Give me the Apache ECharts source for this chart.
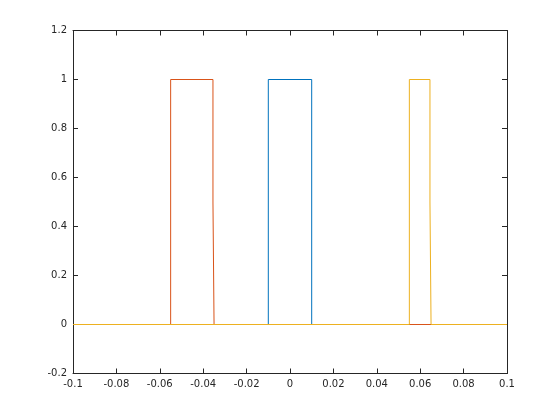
<!DOCTYPE html>
<html>
<head>
<meta charset="utf-8">
<script src="https://cdn.jsdelivr.net/npm/echarts@6/dist/echarts.min.js"></script>
<style>html,body{margin:0;padding:0;background:#fff}#c{width:560px;height:420px}</style>
</head>
<body>
<div id="c"></div>
<script>
// Series data (step pulses)
var blueX   = [-0.1, -0.01, -0.01, 0.01, 0.01, 0.1];
var blueY   = [0, 0, 1, 1, 0, 0];
var orangeX = [-0.1, -0.055, -0.055, -0.0355, -0.0355, -0.035, -0.035, 0.1];
var orangeY = [0, 0, 1, 1, 0.5, 0.5, 0, 0];
var yellowX = [-0.1, 0.055, 0.055, 0.0645, 0.0645, 0.065, 0.065, 0.1];
var yellowY = [0, 0, 1, 1, 0.5, 0.5, 0, 0];

var xMin = -0.1, xMax = 0.1, xStep = 0.02;
var yMin = -0.2, yMax = 1.2, yStep = 0.2;

function zip(xs, ys) { return xs.map(function (x, i) { return [x, ys[i]]; }); }
function fmt(v) { var r = Math.round(v * 1000) / 1000; return String(r); }

var axColor = '#262626';
var font = 'DejaVu Sans';

var chart = echarts.init(document.getElementById('c'));
chart.setOption({
  animation: false,
  backgroundColor: '#fff',
  grid: { left: 73, right: 53, top: 30.5, bottom: 46.5, containLabel: false },
  xAxis: [
    { type: 'value', min: xMin, max: xMax, interval: xStep, position: 'bottom',
      axisLine: { show: true, onZero: false, lineStyle: { color: axColor, width: 1 } },
      axisTick: { show: true, inside: true, length: 5, lineStyle: { color: axColor } },
      axisLabel: { color: axColor, fontFamily: font, fontSize: 10, margin: 6, formatter: fmt },
      splitLine: { show: false } },
    { type: 'value', min: xMin, max: xMax, interval: xStep, position: 'top',
      axisLine: { show: true, onZero: false, lineStyle: { color: axColor, width: 1 } },
      axisTick: { show: true, inside: true, length: 5, lineStyle: { color: axColor } },
      axisLabel: { show: false }, splitLine: { show: false } }
  ],
  yAxis: [
    { type: 'value', min: yMin, max: yMax, interval: yStep, position: 'left',
      axisLine: { show: true, onZero: false, lineStyle: { color: axColor, width: 1 } },
      axisTick: { show: true, inside: true, length: 5, lineStyle: { color: axColor } },
      axisLabel: { color: axColor, fontFamily: font, fontSize: 10, margin: 6, formatter: fmt },
      splitLine: { show: false } },
    { type: 'value', min: yMin, max: yMax, interval: yStep, position: 'right',
      axisLine: { show: true, onZero: false, lineStyle: { color: axColor, width: 1 } },
      axisTick: { show: true, inside: true, length: 5, lineStyle: { color: axColor } },
      axisLabel: { show: false }, splitLine: { show: false } }
  ],
  series: [
    { type: 'line', data: zip(blueX, blueY), showSymbol: false, symbol: 'none',
      lineStyle: { color: '#0072BD', width: 1 }, itemStyle: { color: '#0072BD' } },
    { type: 'line', data: zip(orangeX, orangeY), showSymbol: false, symbol: 'none',
      lineStyle: { color: '#D95319', width: 1 }, itemStyle: { color: '#D95319' } },
    { type: 'line', data: zip(yellowX, yellowY), showSymbol: false, symbol: 'none',
      lineStyle: { color: '#EDB120', width: 1 }, itemStyle: { color: '#EDB120' } }
  ]
});
</script>
</body>
</html>
